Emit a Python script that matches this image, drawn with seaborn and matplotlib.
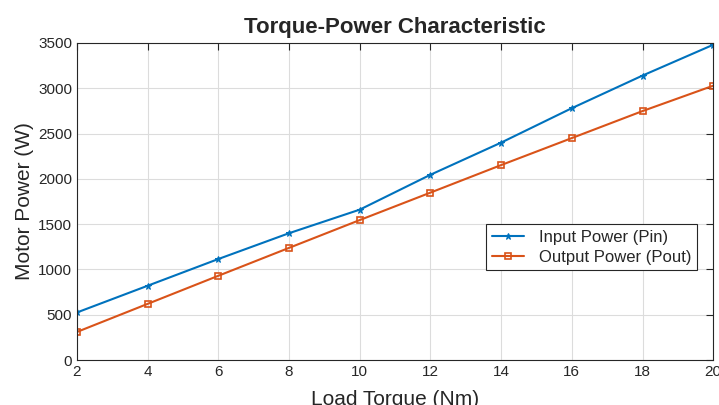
import matplotlib
matplotlib.use("Agg")
import matplotlib.pyplot as plt
import seaborn as sns
import pandas as pd

# values
torque = [2, 4, 6, 8, 10, 12, 14, 16, 18, 20]
p_in = [525, 820, 1115, 1400, 1660, 2045, 2400, 2780, 3140, 3480]
p_out = [310, 620, 930, 1238, 1545, 1848, 2152, 2450, 2748, 3028]
series = ["Input Power (Pin)", "Output Power (Pout)"]

df = pd.DataFrame({
    "torque": torque * 2,
    "power": p_in + p_out,
    "series": [series[0]] * len(torque) + [series[1]] * len(torque),
})

sns.set_style("white")
plt.rcParams["font.family"] = ["Liberation Sans", "DejaVu Sans"]

fig = plt.figure(figsize=(7.19, 4.05), dpi=100)
ax = fig.add_axes([0.107, 0.111, 0.885, 0.783])

sns.lineplot(data=df, x="torque", y="power", hue="series", style="series",
             palette=["#0072BD", "#D95319"], markers=["*", "s"], dashes=False,
             linewidth=1.5, legend=False, ax=ax)

# matlab-like markers: blue star, open orange squares
for line, name in zip(ax.lines, series):
    c = line.get_color()
    line.set_label(name)
    line.set_markeredgecolor(c)
    line.set_markersize(5)
    if name == series[1]:
        line.set_markerfacecolor("none")
        line.set_markeredgewidth(1.2)
    else:
        line.set_markerfacecolor(c)

ax.set_xlim(2, 20)
ax.set_ylim(0, 3500)
ax.set_xticks(range(2, 21, 2))
ax.set_yticks(range(0, 3501, 500))
ax.grid(True, color="#dcdcdc", linewidth=0.8)
ax.tick_params(direction="in", top=True, right=True, labelsize=11,
               colors="#262626", length=5)
for s in ax.spines.values():
    s.set_color("#262626")
    s.set_linewidth(0.8)

ax.set_title("Torque-Power Characteristic", fontsize=16, fontweight="bold", pad=7)
ax.set_xlabel("Load Torque (Nm)", fontsize=15, color="#262626", labelpad=8)
ax.set_ylabel("Motor Power (W)", fontsize=15, color="#262626", labelpad=3)

leg = ax.legend(loc="center right", bbox_to_anchor=(0.988, 0.356), fontsize=12,
                frameon=True, fancybox=False, edgecolor="#262626", framealpha=1,
                handlelength=1.9, handletextpad=0.9, borderpad=0.35,
                labelspacing=0.3)
leg.get_frame().set_linewidth(0.8)

fig.savefig("out.png", dpi=100)
